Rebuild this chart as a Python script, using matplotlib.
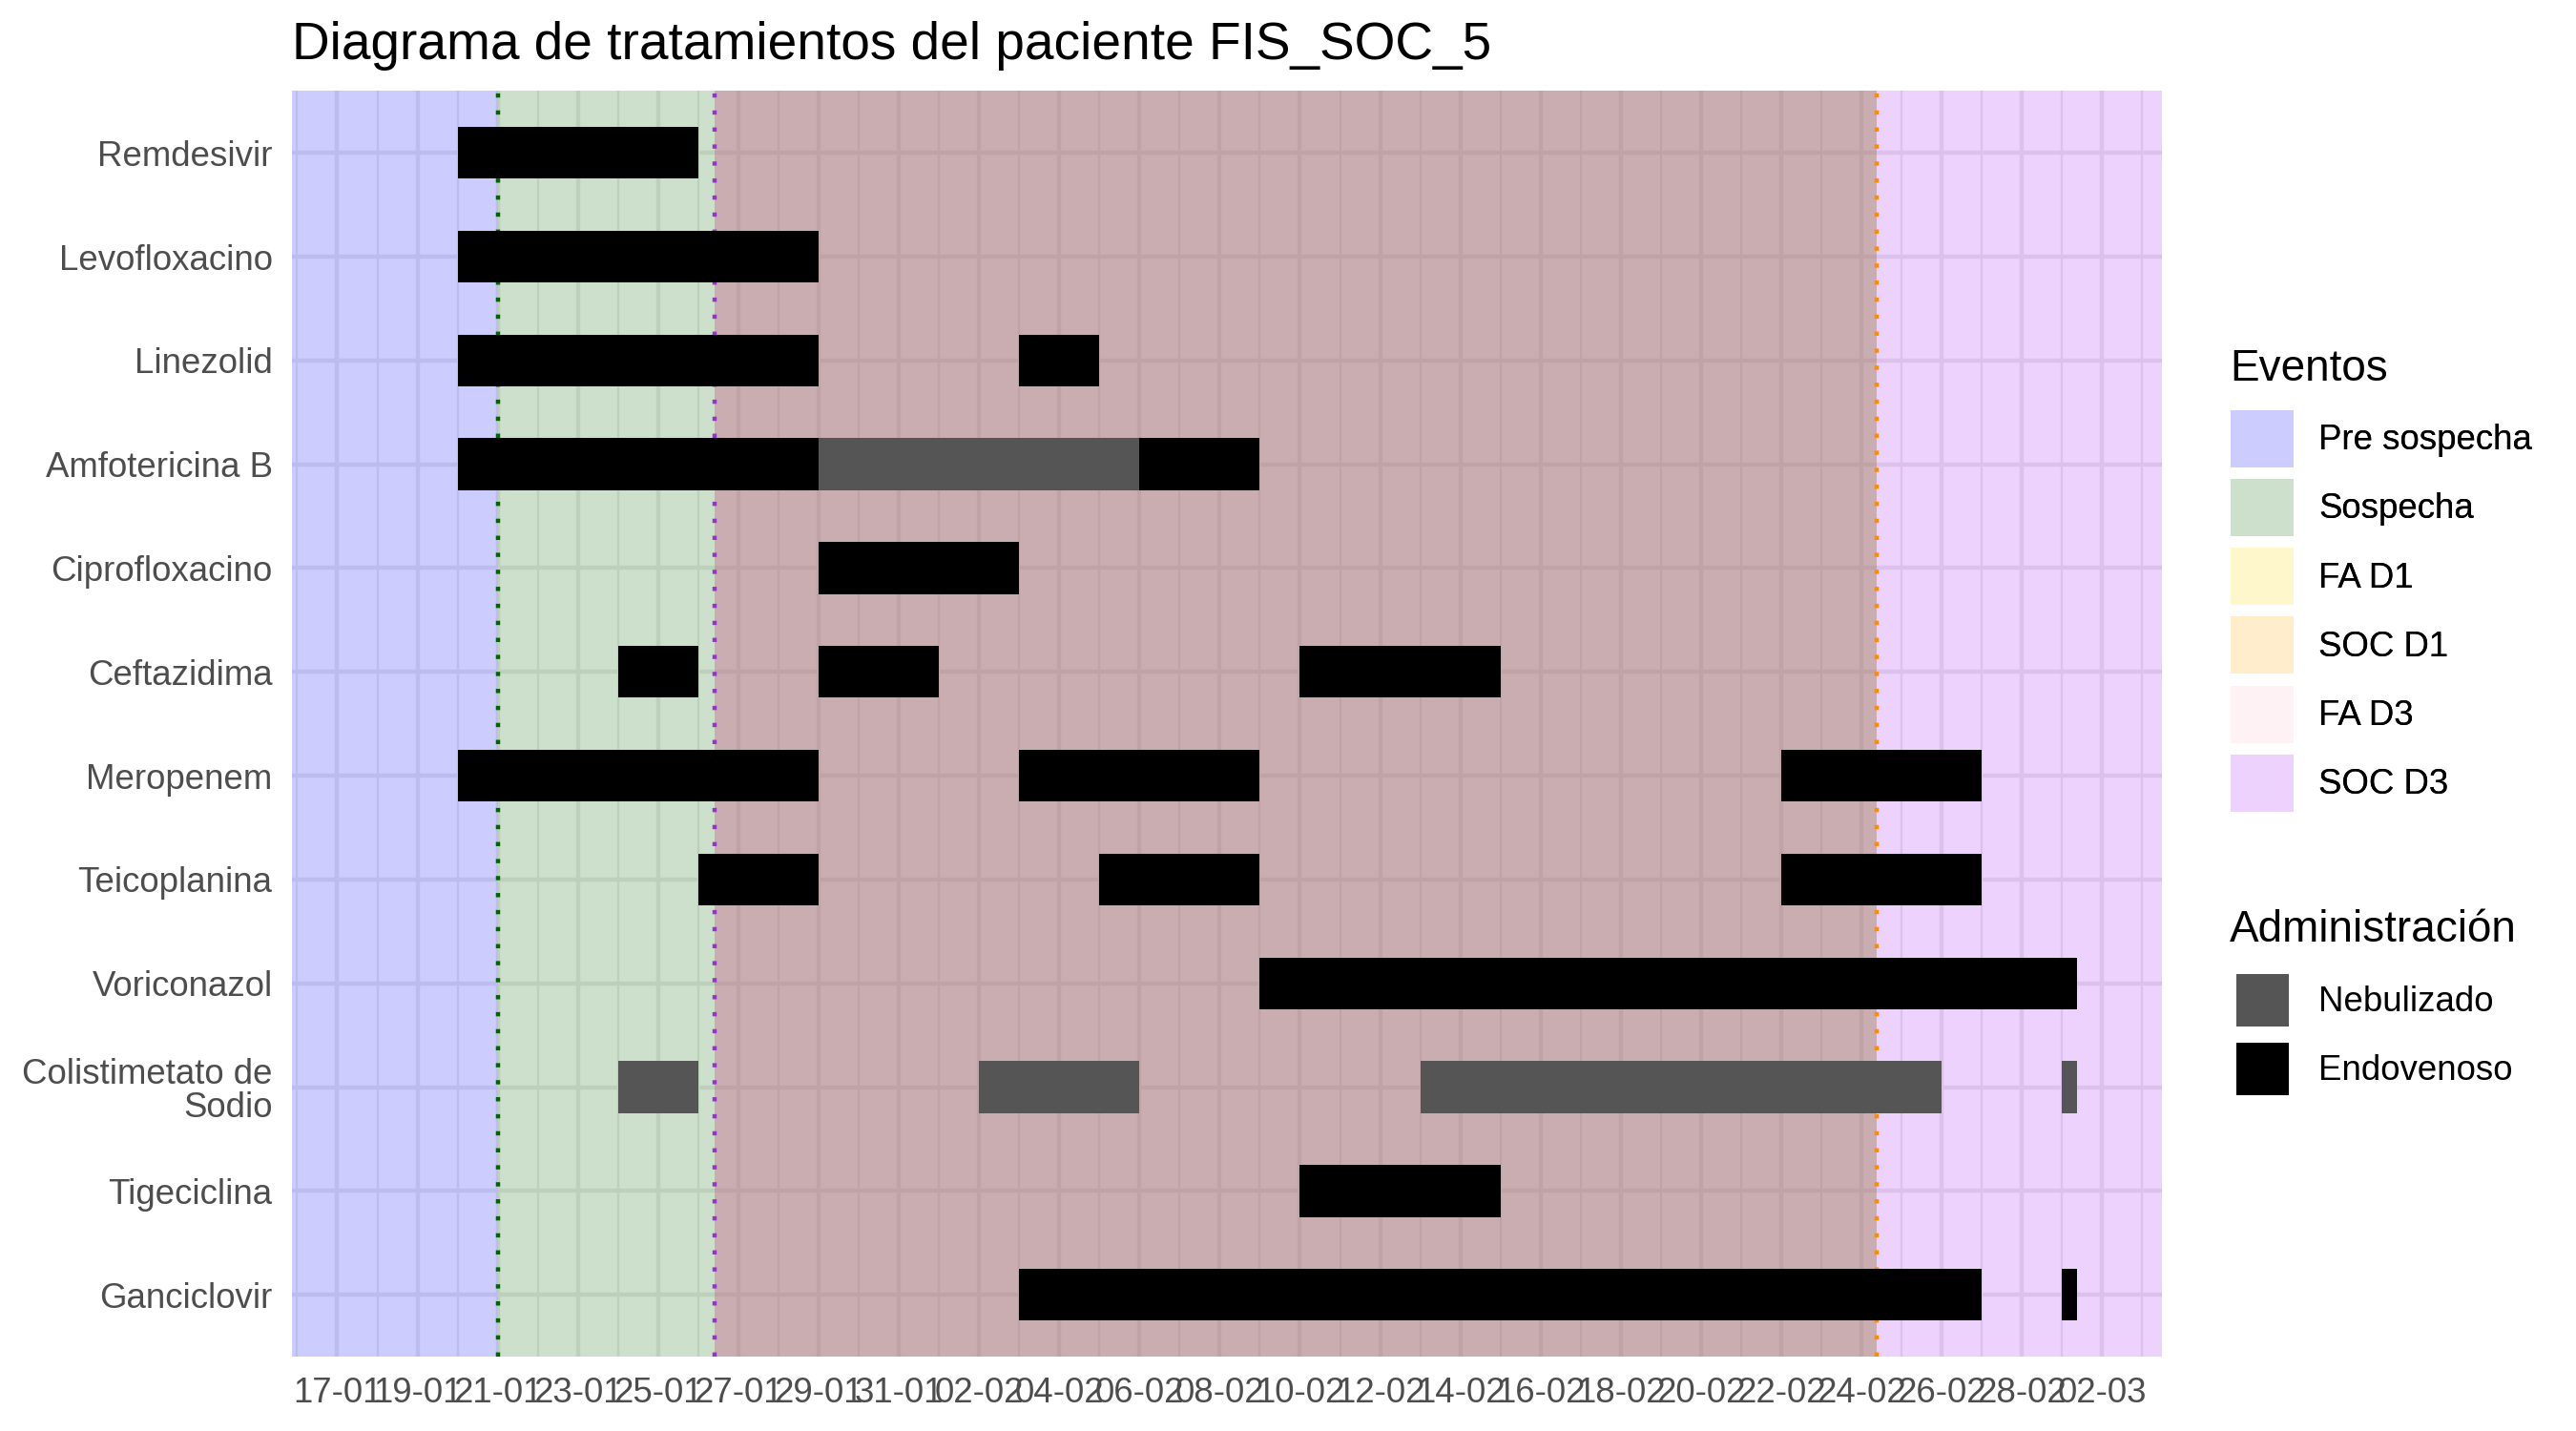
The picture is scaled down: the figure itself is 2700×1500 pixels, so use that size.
import numpy as np
import pandas as pd
import matplotlib
matplotlib.use("Agg")
import matplotlib.pyplot as plt
import matplotlib.dates as mdates
import matplotlib.colors as mcolors
from matplotlib.patches import Patch

plt.rcParams["font.family"] = ["Liberation Sans", "DejaVu Sans"]

# farmacos, de arriba a abajo
drugs = [
    "Remdesivir", "Levofloxacino", "Linezolid", "Amfotericina B",
    "Ciprofloxacino", "Ceftazidima", "Meropenem", "Teicoplanina",
    "Voriconazol", "Colistimetato de\nSodio", "Tigeciclina", "Ganciclovir",
]

# tramos de tratamiento
seg_drug = [
    "Remdesivir", "Levofloxacino",
    "Linezolid", "Linezolid",
    "Amfotericina B", "Amfotericina B", "Amfotericina B",
    "Ciprofloxacino",
    "Ceftazidima", "Ceftazidima", "Ceftazidima",
    "Meropenem", "Meropenem", "Meropenem",
    "Teicoplanina", "Teicoplanina", "Teicoplanina",
    "Voriconazol",
    "Colistimetato de\nSodio", "Colistimetato de\nSodio",
    "Colistimetato de\nSodio", "Colistimetato de\nSodio",
    "Tigeciclina",
    "Ganciclovir", "Ganciclovir",
]
seg_start = [
    "2021-01-20", "2021-01-20",
    "2021-01-20", "2021-02-03",
    "2021-01-20", "2021-01-29", "2021-02-06",
    "2021-01-29",
    "2021-01-24", "2021-01-29", "2021-02-10",
    "2021-01-20", "2021-02-03", "2021-02-22",
    "2021-01-26", "2021-02-05", "2021-02-22",
    "2021-02-09",
    "2021-01-24", "2021-02-02", "2021-02-13", "2021-03-01",
    "2021-02-10",
    "2021-02-03", "2021-03-01",
]
seg_end = [
    "2021-01-26", "2021-01-29",
    "2021-01-29", "2021-02-05",
    "2021-01-29", "2021-02-06", "2021-02-09",
    "2021-02-03",
    "2021-01-26", "2021-02-01", "2021-02-15",
    "2021-01-29", "2021-02-09", "2021-02-27",
    "2021-01-29", "2021-02-09", "2021-02-27",
    "2021-03-01 09:00",
    "2021-01-26", "2021-02-06", "2021-02-26", "2021-03-01 09:00",
    "2021-02-15",
    "2021-02-27", "2021-03-01 09:00",
]
seg_route = [
    "Endovenoso", "Endovenoso",
    "Endovenoso", "Endovenoso",
    "Endovenoso", "Nebulizado", "Endovenoso",
    "Endovenoso",
    "Endovenoso", "Endovenoso", "Endovenoso",
    "Endovenoso", "Endovenoso", "Endovenoso",
    "Endovenoso", "Endovenoso", "Endovenoso",
    "Endovenoso",
    "Nebulizado", "Nebulizado", "Nebulizado", "Nebulizado",
    "Endovenoso",
    "Endovenoso", "Endovenoso",
]

# eventos (leyenda) y fases de fondo
event_names = ["Pre sospecha", "Sospecha", "FA D1", "SOC D1", "FA D3", "SOC D3"]
event_colors = ["blue", "darkgreen", "gold", "orange", "pink", "#A020F0"]

band_start = ["2021-01-18", "2021-01-21", "2021-01-26 10:00", "2021-02-24 09:00"]
band_end = ["2021-01-21", "2021-01-26 10:00", "2021-02-24 09:00", "2021-03-01 09:00"]
band_colors = ["blue", "darkgreen", "#975D65", "#A020F0"]
band_alpha = [0.2, 0.2, 0.5, 0.2]

line_dates = ["2021-01-21", "2021-01-26 10:00", "2021-02-24 09:00"]
line_colors = ["darkgreen", "darkorchid", "darkorange"]

route_names = ["Nebulizado", "Endovenoso"]
route_colors = {"Nebulizado": "#555555", "Endovenoso": "black"}


def on_white(c, alpha):
    rgb = np.array(mcolors.to_rgb(c))
    return tuple(1 - alpha + alpha * rgb)


df = pd.DataFrame({
    "farmaco": seg_drug,
    "inicio": pd.to_datetime(seg_start, format="mixed"),
    "fin": pd.to_datetime(seg_end, format="mixed"),
    "via": seg_route,
})

fig, ax = plt.subplots(figsize=(9, 5), dpi=300)
fig.subplots_adjust(left=0.1135, right=0.8393, top=0.9367, bottom=0.0517)

# rango x con expansion del 5%
x0 = pd.Timestamp(band_start[0])
x1 = df["fin"].max()
pad = (x1 - x0) * 0.05
xmin, xmax = x0 - pad, x1 + pad

# fondos
for i, (s, e, c, a) in enumerate(zip(band_start, band_end, band_colors, band_alpha)):
    s = pd.Timestamp(s) if i > 0 else xmin
    e = pd.Timestamp(e) if i < len(band_start) - 1 else xmax
    ax.axvspan(s, e, color=c, alpha=a, lw=0, zorder=1)

for d, c in zip(line_dates, line_colors):
    ax.axvline(pd.Timestamp(d), color=c, lw=1.07, linestyle=(0, (1, 3)), zorder=2)

# barras de tratamiento
ypos = df["farmaco"].map(drugs.index)
widths = (df["fin"] - df["inicio"]).dt.total_seconds() / 86400
ax.barh(
    ypos,
    widths,
    left=mdates.date2num(df["inicio"]),
    height=0.5,
    color=[route_colors[v] for v in df["via"]],
    zorder=3,
)

ax.set_xlim(xmin, xmax)
ax.set_ylim(len(drugs) - 0.4, -0.6)
ax.set_yticks(range(len(drugs)))
ax.set_yticklabels(drugs, linespacing=1.0)

ax.set_xticks(pd.date_range("2021-01-17", "2021-03-02", freq="2D"))
ax.set_xticks(pd.date_range("2021-01-16", "2021-03-04", freq="2D"), minor=True)
ax.xaxis.set_major_formatter(mdates.DateFormatter("%d-%m"))

ax.set_axisbelow(True)
ax.grid(which="major", color="#EBEBEB", lw=1.07)
ax.grid(which="minor", axis="x", color="#EBEBEB", lw=0.53)
ax.tick_params(which="both", length=0, labelsize=8.8, labelcolor="#4D4D4D", pad=5)
for sp in ax.spines.values():
    sp.set_visible(False)

ax.set_title("Diagrama de tratamientos del paciente FIS_SOC_5", loc="left",
             fontsize=13.2, pad=8)

# leyendas
fig.text(0.8655, 0.7418, "Eventos", fontsize=11, va="center", ha="left")
ev_handles = [Patch(facecolor=on_white(c, 0.2), lw=0) for c in event_colors]
leg1 = fig.legend(
    ev_handles, event_names, loc="upper left",
    bbox_to_anchor=(0.8660, 0.7136), frameon=False, fontsize=8.8,
    handlelength=1.8, handleheight=2.14, labelspacing=0.334,
    handletextpad=0.7, borderpad=0, borderaxespad=0,
)

fig.text(0.8655, 0.3502, "Administración", fontsize=11, va="center", ha="left")
rt_handles = [Patch(facecolor=route_colors[r], lw=0) for r in route_names]
leg2 = fig.legend(
    rt_handles, route_names, loc="upper left",
    bbox_to_anchor=(0.868, 0.3193), frameon=False, fontsize=8.8,
    handlelength=1.5, handleheight=1.93, labelspacing=0.47,
    handletextpad=0.85, borderpad=0, borderaxespad=0,
)
fig.add_artist(leg1)

fig.savefig("out.png", dpi=300)
